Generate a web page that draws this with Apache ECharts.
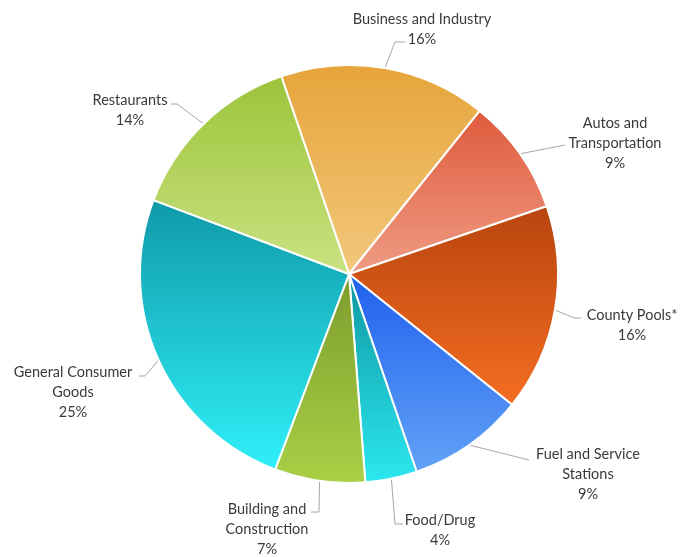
<!DOCTYPE html>
<html>
<head>
<meta charset="utf-8">
<script src="https://cdn.jsdelivr.net/npm/echarts@6/dist/echarts.min.js"></script>
<style>
  html, body { margin: 0; padding: 0; background: #fff; }
  #chart { width: 691px; height: 557px; }
</style>
</head>
<body>
<div id="chart"></div>
<script>
// Sector names (with the line breaks used in their labels) and their shares in percent
const categories = [
  'Business and Industry',
  'Autos and\nTransportation',
  'County Pools*',
  'Fuel and Service\nStations',
  'Food/Drug',
  'Building and\nConstruction',
  'General Consumer\nGoods',
  'Restaurants'
];
const shares = [16, 9, 16, 9, 4, 7, 25, 14];

// Slice fills: darker tone at the top of each slice, lighter at the bottom
const topColors = ['#e6a43a', '#df5a3c', '#b8440e', '#1f60ee', '#0f96a0', '#7c9c2c', '#0f9aa8', '#9cc43a'];
const bottomColors = ['#f2c87c', '#ef9c84', '#f46e22', '#62a2f6', '#2ce8f0', '#aad046', '#30f0f8', '#cae282'];

// Pie geometry
const CX = 349, CY = 274, R = 209;

// Label block centres and leader-line bends, relative to the pie centre
const labelSpots = [
  { c: [73, -245],  bend: [[46, -232], [56, -232]] },
  { c: [266, -131], bend: [[216, -129], [216, -129]] },
  { c: [283, 51],   bend: [[225, 44], [232, 44]] },
  { c: [239, 200],  bend: [[180, 186], [180, 186]] },
  { c: [91, 256],   bend: [[46, 250], [54, 250]] },
  { c: [-82, 255],  bend: [[-30, 238], [-38, 238]] },
  { c: [-276, 118], bend: [[-204, 102], [-210, 102]] },
  { c: [-219, -164], bend: [[-172, -170], [-178, -170]] }
];

const chart = echarts.init(document.getElementById('chart'), null, { renderer: 'canvas' });

const seriesData = categories.map((name, i) => ({
  name: name,
  value: shares[i],
  itemStyle: {
    color: new echarts.graphic.LinearGradient(0, 0, 0, 1, [
      { offset: 0, color: topColors[i] },
      { offset: 1, color: bottomColors[i] }
    ])
  }
}));

chart.setOption({
  backgroundColor: '#ffffff',
  animation: false,
  series: [{
    type: 'pie',
    center: [CX, CY],
    radius: R,
    startAngle: 108.9,
    clockwise: true,
    avoidLabelOverlap: false,
    data: seriesData,
    itemStyle: { borderColor: '#ffffff', borderWidth: 2 },
    label: {
      show: true,
      position: 'outside',
      formatter: '{b}\n{c}%',
      color: '#3a3a3a',
      fontFamily: 'Lato, "Open Sans", sans-serif',
      fontSize: 14.5,
      lineHeight: 20
    },
    labelLine: {
      show: true,
      length: 15,
      length2: 10,
      lineStyle: { color: '#a6a6a6', width: 1 }
    },
    labelLayout: function (params) {
      const spot = labelSpots[params.dataIndex];
      const start = params.labelLinePoints ? params.labelLinePoints[0] : [CX, CY];
      return {
        x: CX + spot.c[0],
        y: CY + spot.c[1],
        align: 'center',
        verticalAlign: 'middle',
        labelLinePoints: [
          start,
          [CX + spot.bend[0][0], CY + spot.bend[0][1]],
          [CX + spot.bend[1][0], CY + spot.bend[1][1]]
        ]
      };
    }
  }]
});
</script>
</body>
</html>
